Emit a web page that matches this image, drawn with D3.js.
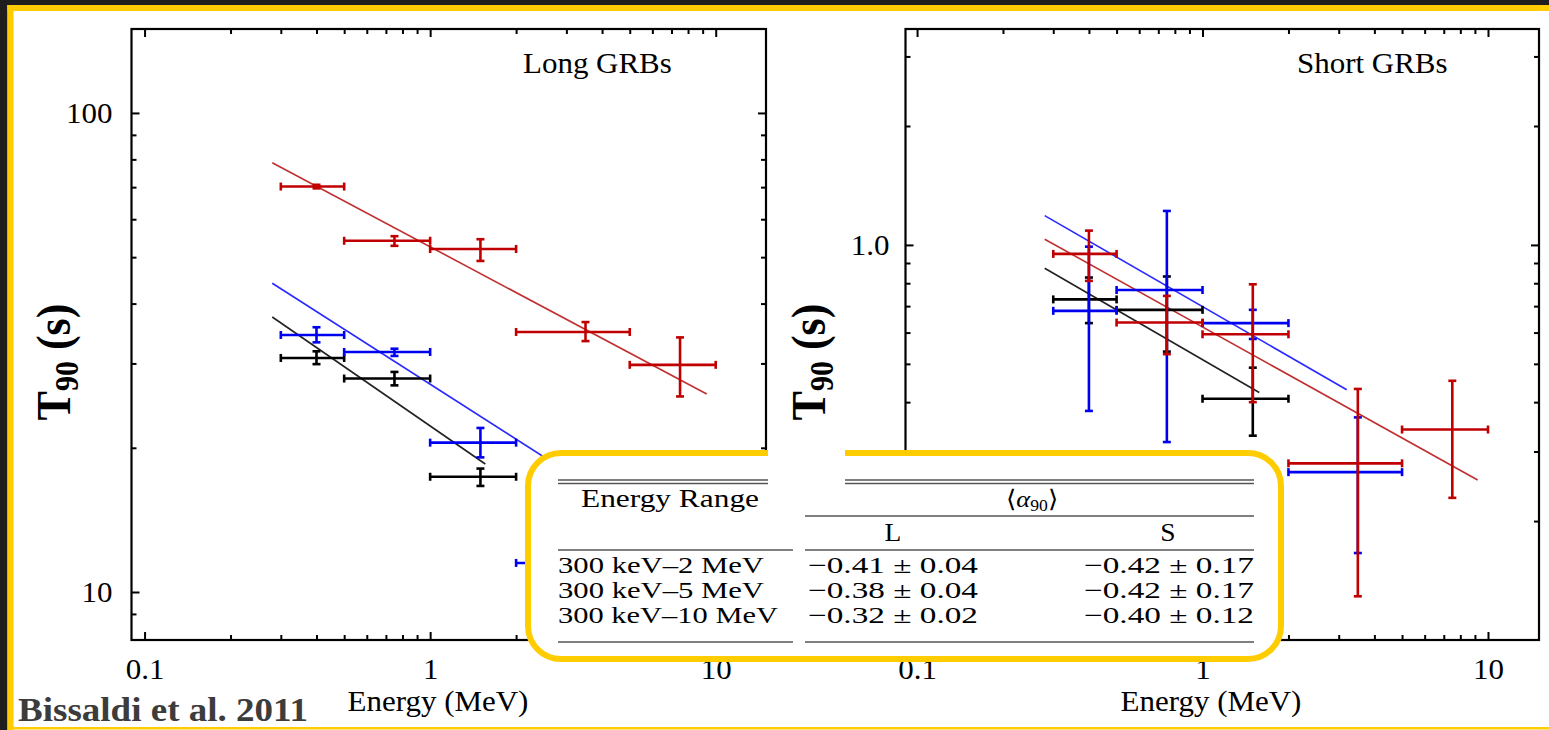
<!DOCTYPE html>
<html>
<head>
<meta charset="utf-8">
<script src="https://cdn.jsdelivr.net/npm/d3@7"></script>
<style>
body { margin: 0; background: #fff; overflow: hidden; }
text { font-family: "Liberation Serif", "Times New Roman", serif; fill: #000; }
</style>
</head>
<body>
<script>
// size of the slide
var w = 1549;
var h = 730;
var S = 1.05;   // the figure was pasted in a bit wider than it is tall
var fs = 29.5;  // font size of the figure texts

// energy bins (MeV), the same for both panels
var binCenter = [0.4, 0.75, 1.5, 3.5, 7.5];
var binLo = [0.3, 0.5, 1, 2, 5];
var binHi = [0.5, 1, 2, 5, 10];

// x tick values / labels
var xMajor = [0.1, 1, 10];
var xMinor = [0.2, 0.3, 0.4, 0.5, 0.6, 0.7, 0.8, 0.9, 2, 3, 4, 5, 6, 7, 8, 9];

// Long GRBs : T90 (s) per bin, with lower / upper error
var longBlack = [30.8, 27.9, 17.4];
var longBlackLo = [29.9, 27.0, 16.65];
var longBlackHi = [31.8, 28.8, 18.1];
var longBlue = [34.4, 31.7, 20.5, 11.5];
var longBlueLo = [33.2, 31.1, 19.1, 10.9];
var longBlueHi = [35.7, 32.2, 22.0, 12.2];
var longRed = [70.2, 54.1, 52.0, 34.9, 29.8];
var longRedLo = [69.6, 52.8, 49.1, 33.4, 25.6];
var longRedHi = [70.8, 55.3, 54.5, 36.6, 34.0];

// Long GRBs : power law fits, end points (energy, T90)
var longBlackFitE = [0.28, 1.56];
var longBlackFitT = [37.5, 18.5];
var longBlueFitE = [0.28, 5.0];
var longBlueFitT = [44.1, 14.7];
var longRedFitE = [0.28, 9.3];
var longRedFitT = [78.7, 25.9];

// Short GRBs
var shortBlack = [0.728, 0.685, 0.408];
var shortBlackLo = [0.634, 0.537, 0.329];
var shortBlackHi = [0.827, 0.832, 0.489];
var shortBlue = [0.681, 0.769, 0.634, 0.266];
var shortBlueLo = [0.380, 0.317, 0.578, 0.166];
var shortBlueHi = [0.990, 1.219, 0.685, 0.366];
var shortRed = [0.949, 0.636, 0.594, 0.280, 0.341];
var shortRedLo = [0.811, 0.529, 0.400, 0.129, 0.229];
var shortRedHi = [1.087, 0.743, 0.795, 0.432, 0.453];

var shortBlackFitE = [0.28, 1.58];
var shortBlackFitT = [0.873, 0.423];
var shortBlueFitE = [0.28, 3.2];
var shortBlueFitT = [1.186, 0.43];
var shortRedFitE = [0.28, 9.2];
var shortRedFitT = [1.034, 0.254];

// table of mean slopes
var tableRanges = ["300 keV\u20132 MeV", "300 keV\u20135 MeV", "300 keV\u201310 MeV"];
var tableLong = ["\u22120.41 \u00b1 0.04", "\u22120.38 \u00b1 0.04", "\u22120.32 \u00b1 0.02"];
var tableShort = ["\u22120.42 \u00b1 0.17", "\u22120.42 \u00b1 0.17", "\u22120.40 \u00b1 0.12"];

var svg = d3.select("body")
        .append("svg")
        .attr("width", w)
        .attr("height", h);

svg.append("rect").attr("width", w).attr("height", h).attr("fill", "#fff");

//--- the two plots ---
function drawPanel(opt) {
    var g = svg.append("g");
    var x = opt.x, y = opt.y, b = opt.box;

    // fit lines
    opt.series.forEach(function(s) {
        g.append("path")
            .datum(d3.zip(s.fitE, s.fitT))
            .attr("d", d3.line().x(function(d) { return x(d[0]); }).y(function(d) { return y(d[1]); }))
            .attr("fill", "none")
            .attr("stroke", s.line)
            .attr("stroke-width", 1.6);
    });

    // error crosses
    opt.series.forEach(function(s) {
        var pts = s.t.map(function(t, i) {
            return {e: binCenter[i], lo: binLo[i], hi: binHi[i], t: t, tlo: s.lo[i], thi: s.hi[i]};
        });
        var sel = g.append("g")
            .attr("stroke", s.color)
            .attr("stroke-width", 2.6)
            .selectAll("g")
            .data(pts)
            .enter()
            .append("g");
        sel.append("line")
            .attr("x1", function(d) { return x(d.lo); }).attr("x2", function(d) { return x(d.hi); })
            .attr("y1", function(d) { return y(d.t); }).attr("y2", function(d) { return y(d.t); });
        sel.append("line")
            .attr("x1", function(d) { return x(d.e); }).attr("x2", function(d) { return x(d.e); })
            .attr("y1", function(d) { return y(d.tlo); }).attr("y2", function(d) { return y(d.thi); });
        ["lo", "hi"].forEach(function(k) {
            sel.append("line")
                .attr("x1", function(d) { return x(d[k]); }).attr("x2", function(d) { return x(d[k]); })
                .attr("y1", function(d) { return y(d.t) - 4; }).attr("y2", function(d) { return y(d.t) + 4; });
        });
        ["tlo", "thi"].forEach(function(k) {
            sel.append("line")
                .attr("x1", function(d) { return x(d.e) - 4; }).attr("x2", function(d) { return x(d.e) + 4; })
                .attr("y1", function(d) { return y(d[k]); }).attr("y2", function(d) { return y(d[k]); });
        });
    });

    // frame
    g.append("rect")
        .attr("x", b.left).attr("y", b.top)
        .attr("width", b.right - b.left).attr("height", b.bottom - b.top)
        .attr("fill", "none").attr("stroke", "#000").attr("stroke-width", 2.2);

    function style(sel) {
        sel.select(".domain").remove();
        sel.selectAll("line").attr("stroke-width", 2);
        sel.selectAll("text").attr("font-size", fs).attr("transform", "scale(" + S + ",1)");
    }

    // ticks on all four sides, pointing in
    g.append("g").attr("transform", "translate(0," + b.bottom + ")")
        .call(d3.axisBottom(x).tickValues(xMajor).tickSize(-8).tickPadding(18).tickFormat(d3.format("~g"))).call(style);
    g.append("g").attr("transform", "translate(0," + b.bottom + ")")
        .call(d3.axisBottom(x).tickValues(xMinor).tickSize(-5).tickFormat("")).call(style);
    g.append("g").attr("transform", "translate(0," + b.top + ")")
        .call(d3.axisTop(x).tickValues(xMajor).tickSize(-8).tickFormat("")).call(style);
    g.append("g").attr("transform", "translate(0," + b.top + ")")
        .call(d3.axisTop(x).tickValues(xMinor).tickSize(-5).tickFormat("")).call(style);
    g.append("g").attr("transform", "translate(" + b.left + ",0)")
        .call(d3.axisLeft(y).tickValues(opt.yMajor).tickSize(-8).tickPadding(opt.yGap / S).tickFormat(opt.yFmt)).call(style);
    g.append("g").attr("transform", "translate(" + b.left + ",0)")
        .call(d3.axisLeft(y).tickValues(opt.yMinor).tickSize(-5).tickFormat("")).call(style);
    g.append("g").attr("transform", "translate(" + b.right + ",0)")
        .call(d3.axisRight(y).tickValues(opt.yMajor).tickSize(-8).tickFormat("")).call(style);
    g.append("g").attr("transform", "translate(" + b.right + ",0)")
        .call(d3.axisRight(y).tickValues(opt.yMinor).tickSize(-5).tickFormat("")).call(style);

    // title in the corner
    g.append("text")
        .attr("transform", "translate(" + opt.titleX + ",73) scale(" + S + ",1)")
        .attr("font-size", fs)
        .text(opt.title);

    // x label
    g.append("text")
        .attr("transform", "translate(" + opt.xlabX + ",711) scale(" + S + ",1)")
        .attr("text-anchor", "middle")
        .attr("font-size", fs)
        .text("Energy (MeV)");

    // y label, T90 (s)
    var yl = g.append("text")
        .attr("transform", "translate(" + opt.ylabX + ",362) rotate(-90) scale(1,1.12)")
        .attr("text-anchor", "middle")
        .attr("font-weight", "bold")
        .attr("font-size", 44);
    yl.append("tspan").text("T");
    yl.append("tspan").attr("font-size", 30).attr("dy", 7).text("90");
    yl.append("tspan").attr("dy", -7).text("\u00a0(s)");
}

var xLong = d3.scaleLog().domain([0.09, 15]).range([131.5, 766]);
var yLong = d3.scaleLog().domain([7.94, 149.7]).range([640, 29]);
var xShort = d3.scaleLog().domain([0.0911, 15.09]).range([905.5, 1539]);
var yShort = d3.scaleLog().domain([0.1, 3.52]).range([640, 29]);

drawPanel({
    x: xLong, y: yLong,
    box: {left: 131.5, right: 766, top: 29, bottom: 640},
    series: [
        {color: "#000", line: "#222", t: longBlack, lo: longBlackLo, hi: longBlackHi, fitE: longBlackFitE, fitT: longBlackFitT},
        {color: "#0000f0", line: "#2a2aff", t: longBlue, lo: longBlueLo, hi: longBlueHi, fitE: longBlueFitE, fitT: longBlueFitT},
        {color: "#c00000", line: "#c03030", t: longRed, lo: longRedLo, hi: longRedHi, fitE: longRedFitE, fitT: longRedFitT}
    ],
    yMajor: [10, 100],
    yMinor: [9, 20, 30, 40, 50, 60, 70, 80, 90],
    yFmt: d3.format("~g"),
    yGap: 19,
    title: "Long GRBs", titleX: 523,
    xlabX: 438,
    ylabX: 70
});

drawPanel({
    x: xShort, y: yShort,
    box: {left: 905.5, right: 1539, top: 29, bottom: 640},
    series: [
        {color: "#000", line: "#222", t: shortBlack, lo: shortBlackLo, hi: shortBlackHi, fitE: shortBlackFitE, fitT: shortBlackFitT},
        {color: "#0000f0", line: "#2a2aff", t: shortBlue, lo: shortBlueLo, hi: shortBlueHi, fitE: shortBlueFitE, fitT: shortBlueFitT},
        {color: "#c00000", line: "#c03030", t: shortRed, lo: shortRedLo, hi: shortRedHi, fitE: shortRedFitE, fitT: shortRedFitT}
    ],
    yMajor: [1],
    yMinor: [0.2, 0.3, 0.4, 0.5, 0.6, 0.7, 0.8, 0.9, 2, 3],
    yFmt: d3.format(".1f"),
    yGap: 16,
    title: "Short GRBs", titleX: 1297,
    xlabX: 1211,
    ylabX: 825
});

//--- the table in the yellow box ---
svg.append("rect")
    .attr("x", 528).attr("y", 453)
    .attr("width", 753).attr("height", 206)
    .attr("rx", 33)
    .attr("fill", "#fff")
    .attr("stroke", "#ffcc00")
    .attr("stroke-width", 6);

var rules = svg.append("g").attr("stroke", "#555");
rules.append("line").attr("x1", 558).attr("x2", 1254).attr("y1", 480).attr("y2", 480).attr("stroke-width", 1.3);
rules.append("line").attr("x1", 558).attr("x2", 1254).attr("y1", 483.5).attr("y2", 483.5).attr("stroke-width", 1.3);
rules.append("line").attr("x1", 805).attr("x2", 1254).attr("y1", 516).attr("y2", 516).attr("stroke-width", 1.6);
[550, 642].forEach(function(yy) {
    rules.append("line").attr("x1", 558).attr("x2", 793).attr("y1", yy).attr("y2", yy).attr("stroke-width", 1.6);
    rules.append("line").attr("x1", 805).attr("x2", 1254).attr("y1", yy).attr("y2", yy).attr("stroke-width", 1.6);
});

// white patch over the gap between the two figures
svg.append("rect").attr("x", 768).attr("y", 444).attr("width", 77).attr("height", 48).attr("fill", "#fff");

var tt = svg.append("g").attr("font-size", 25).style("fill", "#1a1a1a");
tt.append("text").attr("x", 581).attr("y", 507).attr("textLength", 178).attr("lengthAdjust", "spacingAndGlyphs").text("Energy Range");
var al = tt.append("text").attr("transform", "translate(1032,507) scale(1.1,1)").attr("text-anchor", "middle").attr("font-size", 24);
al.append("tspan").text("\u27e8");
al.append("tspan").attr("font-style", "italic").text("\u03b1");
al.append("tspan").attr("font-size", 16).attr("dy", 4).text("90");
al.append("tspan").attr("dy", -4).text("\u27e9");
tt.append("text").attr("transform", "translate(893,541) scale(1.1,1)").attr("text-anchor", "middle").text("L");
tt.append("text").attr("transform", "translate(1168,541) scale(1.1,1)").attr("text-anchor", "middle").text("S");

// the three rows, a bit smaller so that they sit 25 px apart
tableRanges.forEach(function(r, i) {
    var yy = 573 + i * 25;
    var row = tt.append("g").attr("font-size", 23);
    row.append("text").attr("x", 558).attr("y", yy).attr("textLength", i == 2 ? 220 : 206).attr("lengthAdjust", "spacingAndGlyphs").text(r);
    row.append("text").attr("x", 808).attr("y", yy).attr("textLength", 170).attr("lengthAdjust", "spacingAndGlyphs").text(tableLong[i]);
    row.append("text").attr("x", 1084).attr("y", yy).attr("textLength", 170).attr("lengthAdjust", "spacingAndGlyphs").text(tableShort[i]);
});

//--- slide decoration ---
svg.append("rect").attr("x", 0).attr("y", 0).attr("width", w).attr("height", 5).attr("fill", "#1e1e1e");
svg.append("rect").attr("x", 0).attr("y", 0).attr("width", 7.5).attr("height", h).attr("fill", "#1e1e1e");
svg.append("rect").attr("x", 7.5).attr("y", 5).attr("width", w).attr("height", 6).attr("fill", "#ffcc00");
svg.append("rect").attr("x", 7.5).attr("y", 5).attr("width", 6).attr("height", h).attr("fill", "#ffcc00");
svg.append("rect").attr("x", 13).attr("y", 727).attr("width", w).attr("height", 2.5).attr("fill", "#ffcc00");

svg.append("text")
    .attr("x", 18).attr("y", 721)
    .attr("font-size", 34)
    .attr("font-weight", "bold")
    .attr("textLength", 290)
    .attr("lengthAdjust", "spacingAndGlyphs")
    .style("fill", "#3c3c3c")
    .text("Bissaldi et al. 2011");
</script>
</body>
</html>
